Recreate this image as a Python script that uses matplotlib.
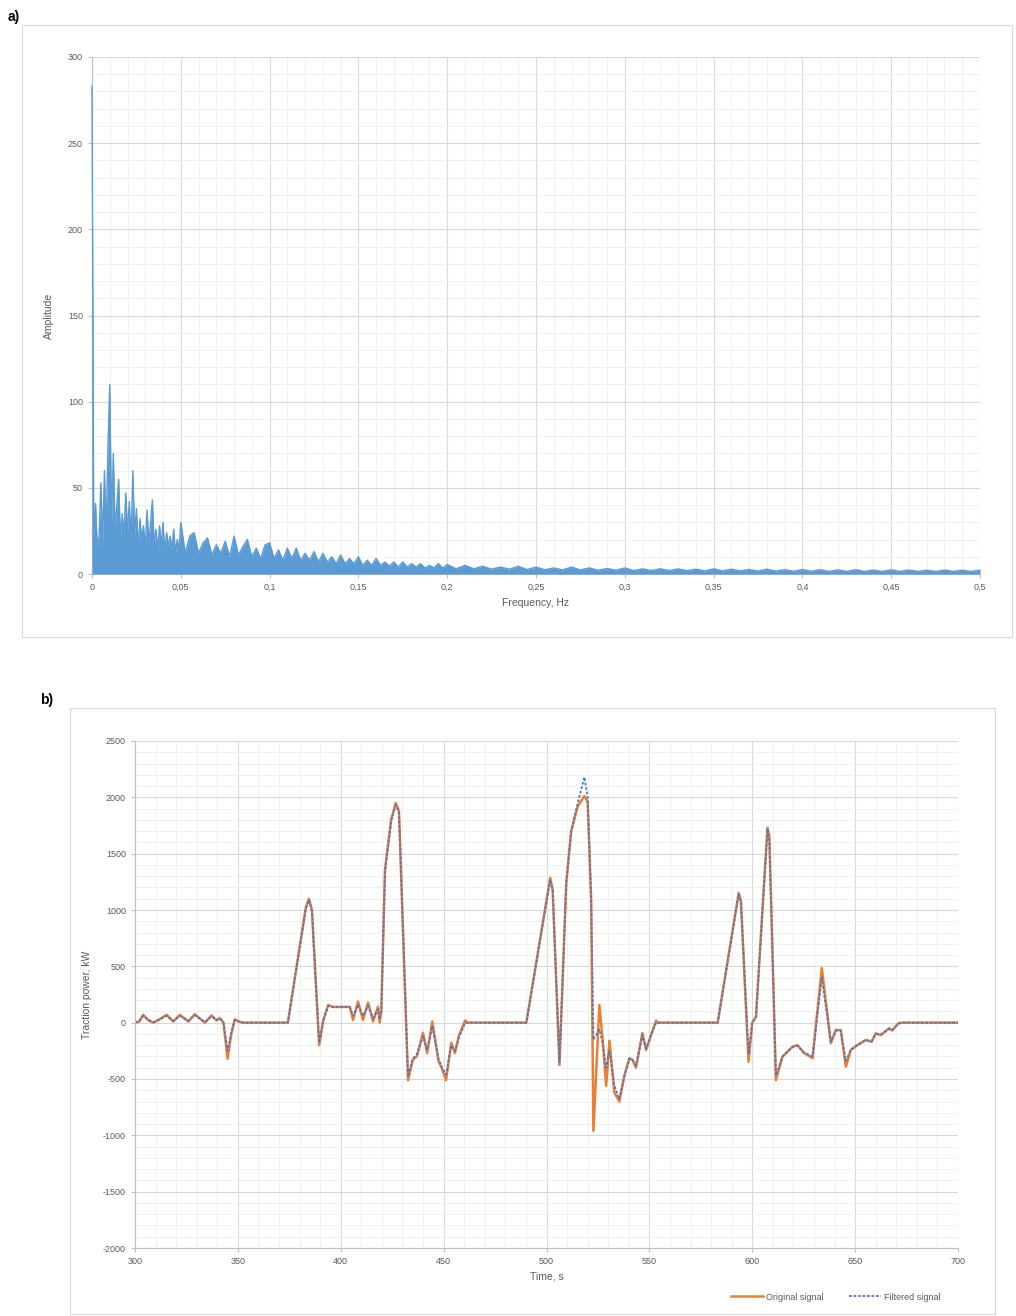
import numpy as np
import matplotlib.pyplot as plt
from matplotlib.lines import Line2D
from matplotlib.patches import Rectangle
from matplotlib.ticker import MultipleLocator, FuncFormatter

plt.rcParams['font.family'] = ['Liberation Sans', 'DejaVu Sans']

# amplitude spectrum, top edge of the band read in three frequency bands
# (spikes and band level alternate)
amp_band1 = [283, 20, 41, 15, 22, 53, 18, 60, 25, 75, 110, 30, 70, 25, 40, 55, 20, 35, 22, 47,
             25, 42, 18, 60, 22, 38, 15, 32, 20, 28, 15, 37, 18, 30, 43, 16, 26, 14, 28, 17,
             30, 13, 24, 16, 22, 14, 26, 12, 20, 14]                 # 0 .. 0.049, step 0.001
amp_band2 = [30, 12, 22, 24, 12, 18, 21, 11, 17, 12, 19, 10, 22, 11, 16, 20, 10, 15, 9, 17,
             18, 9, 14, 8, 15, 9, 15, 8, 12, 8, 13, 7, 12, 7, 10, 6, 11, 6, 9, 6,
             10, 5, 8, 5, 9, 5, 7, 4.5, 7, 4, 7, 4, 6, 4, 6, 3.5, 5, 3.5, 6, 3.5]  # 0.05 .. 0.1975, step 0.0025
amp_band3 = [5.5, 3, 5, 3, 4.5, 2.8, 4, 2.8, 4.5, 2.6,
             4, 2.5, 3.5, 2.4, 4, 2.4, 3.5, 2.2, 3.2, 2.2,
             3.5, 2, 3, 2, 3, 2, 3, 1.9, 2.8, 1.8,
             3, 1.8, 2.8, 1.8, 2.6, 1.7, 2.8, 1.7, 2.5, 1.6,
             2.6, 1.6, 2.5, 1.5, 2.4, 1.5, 2.5, 1.5, 2.3, 1.5,
             2.4, 1.5, 2.3, 1.5, 2.2, 1.5, 2.3, 1.5, 2.2, 1.5, 2.2]  # 0.2 .. 0.5, step 0.005

# traction power, original signal
orig_t = [300, 302, 304, 306.5, 309, 312, 315.4, 318.6, 321.8, 325.9, 329, 332, 334, 337.2, 339.6,
          341.3, 343, 345, 346.8, 348.5, 350.5, 352.4, 374.3, 383, 384.5, 386, 389.5, 391.5, 393.9,
          396, 404.4, 406, 408.4, 410.8, 413.3, 415.7, 418.1, 418.9, 419.7, 421.5, 424.5, 426.7,
          428.3, 432.7, 435, 437, 440, 442, 444.5, 447.5, 449, 451.2, 453.7, 455.5, 457.5, 460.5,
          461.5, 490.2, 501.8, 503, 506.3, 509.6, 512, 515.2, 518.4, 520, 521.7, 522.8, 525.7,
          527.2, 529, 530.6, 533, 535.4, 537.9, 540.3, 541.8, 543.5, 546.6, 548.4, 551, 553.3,
          554, 583.2, 593.4, 594.5, 598.2, 600, 601.8, 607.4, 608.3, 611.5, 614.7, 617, 619.6,
          622, 625.2, 629.3, 633.8, 638.2, 640.6, 643, 645.5, 647.9, 651, 655.2, 658, 660,
          662.5, 666.5, 668, 671, 673, 700]
orig_p = [0, 10, 70, 20, 0, 30, 70, 10, 70, 10, 75, 30, 0, 65, 20,
          40, 0, -320, -100, 30, 10, 0, 0, 1020, 1100, 1000, -200, 20, 157,
          140, 140, 24, 187, 24, 178, 10, 142, 0, 100, 1360, 1800, 1950,
          1880, -510, -330, -300, -90, -270, 10, -340, -400, -510, -180, -270, -110, 20,
          0, 0, 1285, 1180, -376, 1243, 1700, 1922, 2011, 1960, 1092, -960, 157,
          -130, -560, -160, -620, -700, -465, -316, -330, -400, -92, -243, -100, 20,
          0, 0, 1151, 1080, -347, 0, 50, 1730, 1650, -510, -302, -260, -213,
          -200, -270, -315, 484, -183, -65, -65, -390, -242, -200, -154, -170, -95,
          -110, -50, -70, -5, 0, 0]

# traction power, filtered signal
filt_t = orig_t
filt_p = [0, 10, 60, 25, 5, 30, 60, 15, 60, 15, 65, 30, 5, 55, 25,
          35, 0, -250, -90, 25, 10, 0, 0, 1010, 1090, 990, -180, 20, 150,
          140, 140, 60, 160, 60, 150, 40, 120, 30, 100, 1340, 1790, 1930,
          1870, -480, -320, -280, -120, -240, -30, -320, -390, -460, -200, -250, -130, 0,
          0, 0, 1270, 1170, -350, 1230, 1700, 1950, 2180, 2000, 1100, -150, -60,
          -170, -400, -250, -560, -680, -470, -320, -330, -380, -110, -230, -100, 0,
          0, 0, 1140, 1070, -280, 0, 50, 1720, 1640, -470, -300, -260, -215,
          -205, -265, -300, 400, -170, -70, -70, -340, -240, -200, -155, -165, -100,
          -105, -55, -65, -10, 0, 0]

BLUE = '#5b9bd5'
ORANGE = '#ed7d31'
TXT = '#595959'


def freq_bins():
    f1 = np.arange(len(amp_band1)) * 0.001
    f2 = 0.05 + np.arange(len(amp_band2)) * 0.0025
    f3 = 0.2 + np.arange(len(amp_band3)) * 0.005
    return np.concatenate([f1, f2, f3])


def style(ax):
    ax.grid(which='major', color='#d9d9d9', lw=0.8)
    ax.grid(which='minor', color='#efefef', lw=0.6)
    ax.set_axisbelow(True)
    for s in ('top', 'right'):
        ax.spines[s].set_visible(False)
    for s in ('left', 'bottom'):
        ax.spines[s].set_color('#bfbfbf')
        ax.spines[s].set_linewidth(0.8)
    ax.tick_params(which='major', length=3, color='#bfbfbf', labelsize=6.5, labelcolor=TXT)
    ax.tick_params(which='minor', length=0)


def main():
    W, H = 1016, 1316
    fig = plt.figure(figsize=(W / 100, H / 100), dpi=100)

    # chart area frames and panel letters
    fig.patches.append(Rectangle((22 / W, 1 - 637 / H), (1012 - 22) / W, (637 - 25) / H,
                                 transform=fig.transFigure, fill=False, ec='#d9d9d9', lw=0.8))
    fig.patches.append(Rectangle((70 / W, 1 - 1314 / H), (995 - 70) / W, (1314 - 708) / H,
                                 transform=fig.transFigure, fill=False, ec='#d9d9d9', lw=0.8))
    fig.text(8 / W, 1 - 17 / H, 'a)', fontsize=10, fontweight='bold', va='center')
    fig.text(40 / W, 1 - 700 / H, 'b)', fontsize=10, fontweight='bold', va='center')

    # a) amplitude spectrum
    ax1 = fig.add_axes([92 / W, 1 - 574 / H, (980 - 92) / W, (574 - 57) / H])
    style(ax1)
    freq = freq_bins()
    amp = np.concatenate([amp_band1, amp_band2, amp_band3])
    ax1.fill_between(freq, 0, amp, color=BLUE, lw=0, zorder=3)
    ax1.plot(freq, amp, color=BLUE, lw=1.0, zorder=3, clip_on=False)
    ax1.set_xlim(0, 0.5)
    ax1.set_ylim(0, 300)
    ax1.xaxis.set_major_locator(MultipleLocator(0.05))
    ax1.xaxis.set_minor_locator(MultipleLocator(0.01))
    ax1.yaxis.set_major_locator(MultipleLocator(50))
    ax1.yaxis.set_minor_locator(MultipleLocator(10))
    ax1.xaxis.set_major_formatter(FuncFormatter(lambda v, p: ('%g' % round(v, 2)).replace('.', ',')))
    ax1.set_xlabel('Frequency, Hz', fontsize=7.5, color=TXT, labelpad=4)
    ax1.set_ylabel('Amplitude', fontsize=7.5, color=TXT, labelpad=10)

    # b) traction power
    ax2 = fig.add_axes([135 / W, 1 - 1248 / H, (958 - 135) / W, (1248 - 741) / H])
    style(ax2)
    ax2.plot(orig_t, orig_p, color=ORANGE, lw=1.8, solid_joinstyle='round')
    ax2.plot(filt_t, filt_p, color='#4a78c8', lw=1.3, ls=(0, (1.5, 1)))
    ax2.set_xlim(300, 700)
    ax2.set_ylim(-2000, 2500)
    ax2.xaxis.set_major_locator(MultipleLocator(50))
    ax2.xaxis.set_minor_locator(MultipleLocator(10))
    ax2.yaxis.set_major_locator(MultipleLocator(500))
    ax2.yaxis.set_minor_locator(MultipleLocator(100))
    ax2.yaxis.set_major_formatter(FuncFormatter(lambda v, p: '%d' % v))
    ax2.set_xlabel('Time, s', fontsize=7.5, color=TXT, labelpad=4)
    ax2.set_ylabel('Traction power, kW', fontsize=7.5, color=TXT, labelpad=8)

    handles = [Line2D([], [], color=ORANGE, lw=1.8),
               Line2D([], [], color='#4a78c8', lw=1.3, ls=(0, (1.5, 1)))]
    fig.legend(handles, ['Original signal', 'Filtered signal'], ncol=2, frameon=False,
               fontsize=6.5, labelcolor=TXT, loc='center', bbox_to_anchor=(836 / W, 1 - 1297 / H),
               handlelength=3.5, handletextpad=0.4, columnspacing=2.8)

    fig.savefig('out.png', dpi=100)


if __name__ == '__main__':
    main()
